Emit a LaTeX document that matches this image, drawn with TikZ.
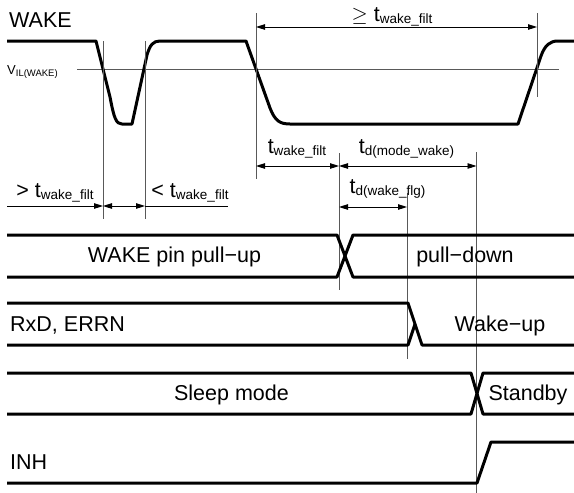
\documentclass[tikz,border=0pt]{standalone}
\usepackage{fontspec}
\setmainfont{Liberation Sans}
\usetikzlibrary{arrows.meta}
\newcommand\mainsz{\fontsize{21.5}{24}\selectfont}
\newcommand\subsz[1]{\raisebox{-2.5pt}{\fontsize{13.5}{15}\selectfont #1}}
\begin{document}
\begin{tikzpicture}[x=1pt,y=-1pt,
  sig/.style={line width=3pt, line join=round},
  guide/.style={line width=0.9pt, black!65},
  dim/.style={line width=0.9pt, black},
  dimtip/.style={{Triangle[length=9pt,width=5.5pt]}-{Triangle[length=9pt,width=5.5pt]}},
  lbl/.style={inner sep=0pt, anchor=base, font=\mainsz},
  lblw/.style={inner sep=0pt, anchor=base west, font=\mainsz}]
\useasboundingbox (0,0) rectangle (574,493);

% ---------- WAKE waveform ----------
\node[lblw] (wake) at (9,27) {WAKE};
\node[inner sep=0pt, anchor=base west, font=\fontsize{13}{14}\selectfont] (vil) at (7,74)
  {V\raisebox{-2pt}{\fontsize{9.5}{10}\selectfont IL(WAKE)}};
\draw[guide] (77,69) -- (559,69);
\draw[sig] (7,41) -- (96,41) -- (110,97) .. controls (114,118) and (116,124) .. (122,124)
  -- (132,124) -- (147,55) .. controls (150,45) and (153,41) .. (160,41)
  -- (246,41) -- (270,108) .. controls (275,121) and (280,124) .. (290,124)
  -- (518,124) -- (541,56) .. controls (545,45) and (550,41) .. (558,41) -- (574,41);

% ---------- guide lines ----------
\coordinate (g1t) at (103,41);  \coordinate (g1b) at (103,219);
\coordinate (g2t) at (145,41);  \coordinate (g2b) at (145,219);
\coordinate (g3t) at (256,13);  \coordinate (g3b) at (256,179);
\coordinate (g4t) at (537,13);  \coordinate (g4b) at (537,97);
\coordinate (g5t) at (339,153); \coordinate (g5b) at (339,290);
\coordinate (g6t) at (407,193); \coordinate (g6b) at (407,359);
\coordinate (g7t) at (476.5,152); \coordinate (g7b) at (476.5,493);
\foreach \g in {1,...,7} \draw[guide] (g\g t) -- (g\g b);

% ---------- dimension arrows ----------
\draw[dim, dimtip] (256,27) -- (537,27);
\node[lbl] (ge) at (392,21) {$\geq$ t\subsz{wake\_filt}};

\draw[dim, dimtip] (256,166) -- (339,166);
\draw[dim, dimtip] (339,166) -- (476.5,166);
\node[lbl] (twf) at (297,153) {t\subsz{wake\_filt}};
\node[lbl] (tdm) at (406.5,153) {t\subsz{d(mode\_wake)}};

\draw[dim, dimtip] (339,207) -- (407,207);
\node[lbl] (tdw) at (387.5,193) {t\subsz{d(wake\_flg)}};

\draw[dim, -{Triangle[length=9pt,width=5.5pt]}] (7,206) -- (103,206);
\draw[dim, dimtip] (103,206) -- (145,206);
\draw[dim] (145,206) -- (228,206);
\node[lbl] (gt) at (55,197) {> t\subsz{wake\_filt}};
\node[lbl] (lt) at (190,197) {< t\subsz{wake\_filt}};

% ---------- WAKE pin pull-up row ----------
\draw[sig] (7,235) -- (337,235) -- (353,277) -- (574,277);
\draw[sig] (7,277) -- (337,277) -- (353,235) -- (574,235);
\node[lbl] (pu) at (174.5,262) {WAKE pin pull−up};
\node[lbl] (pd) at (465,262) {pull−down};

% ---------- RxD, ERRN row ----------
\draw[sig] (7,303) -- (408,303) -- (422,345) -- (574,345);
\draw[sig] (7,345) -- (408,345) -- (415,324);
\node[lblw] (rxd) at (10,331) {RxD, ERRN};
\node[lbl] (wu) at (500,331) {Wake−up};

% ---------- Sleep / Standby row ----------
\draw[sig] (7,373) -- (471,373) -- (483,414) -- (574,414);
\draw[sig] (7,414) -- (471,414) -- (483,373) -- (574,373);
\node[lbl] (sl) at (231.5,400) {Sleep mode};
\node[lbl] (sb) at (528,400) {Standby};

% ---------- INH row ----------
\draw[sig] (7,483) -- (477,483) -- (491,442) -- (574,442);
\node[lblw] (inh) at (10,469) {INH};
\end{tikzpicture}
\end{document}
